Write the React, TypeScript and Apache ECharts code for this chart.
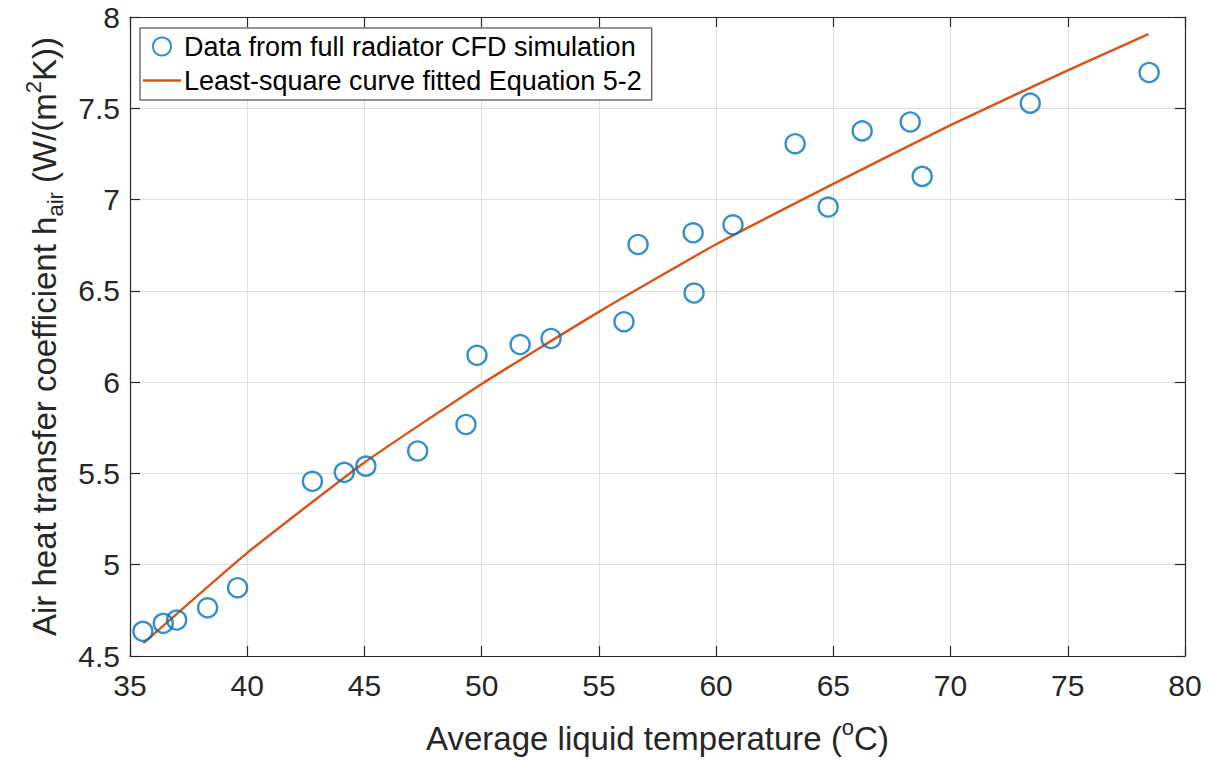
import React, { useEffect, useRef } from "react";
import * as echarts from "echarts";

const tempX = [35.55, 36.42, 36.99, 38.31, 39.59, 42.78, 44.14, 45.06, 47.27, 49.33, 49.8, 51.64, 52.96, 56.07, 56.67, 59.02, 59.06, 60.72, 63.37, 64.78, 66.23, 68.28, 68.79, 73.4, 78.47];
const hAir = [4.635, 4.679, 4.697, 4.764, 4.874, 5.457, 5.506, 5.54, 5.623, 5.768, 6.147, 6.206, 6.239, 6.331, 6.754, 6.818, 6.488, 6.862, 7.306, 6.959, 7.376, 7.425, 7.127, 7.528, 7.696];
const fitX = [35.57, 40, 45, 50, 55, 60, 65, 70, 75, 78.44];
const fitY = [4.57, 5.065, 5.56, 5.99, 6.385, 6.755, 7.086, 7.408, 7.708, 7.906];
const seriesNames = ["Data from full radiator CFD simulation", "Least-square curve fitted Equation 5-2"];

const FONT = "'Liberation Sans', Arial, Helvetica, sans-serif";
const AX = "#262626";

export default function App() {
  const ref = useRef<HTMLDivElement>(null);
  useEffect(() => {
    document.body.style.margin = "0";
    const chart = echarts.init(ref.current!, null, { renderer: "svg" });
    const xBase = {
      type: "value",
      min: 35,
      max: 80,
      interval: 5,
      axisLine: { show: true, onZero: false, lineStyle: { color: AX, width: 1.2 } },
      axisTick: { show: true, inside: true, length: 10, lineStyle: { color: AX, width: 1.2 } },
    };
    const yBase = {
      type: "value",
      min: 4.5,
      max: 8,
      interval: 0.5,
      axisLine: { show: true, onZero: false, lineStyle: { color: AX, width: 1.2 } },
      axisTick: { show: true, inside: true, length: 10, lineStyle: { color: AX, width: 1.2 } },
    };
    chart.setOption({
      animation: false,
      backgroundColor: "#ffffff",
      textStyle: { fontFamily: FONT },
      grid: { left: 130, right: 37, top: 17, bottom: 102, containLabel: false },
      legend: {
        orient: "vertical",
        left: 140,
        top: 28,
        padding: [5, 10, 6, 3],
        itemGap: 7,
        itemWidth: 38,
        itemHeight: 18,
        borderColor: AX,
        borderWidth: 1,
        backgroundColor: "#ffffff",
        textStyle: { fontSize: 27, color: "#000000", fontFamily: FONT, padding: [0, 0, 0, -2] },
        data: [
          { name: seriesNames[0] },
          {
            name: seriesNames[1],
            icon: "path://M0,0 L38,0 L38,2.4 L0,2.4 Z",
            itemStyle: { color: "#D95319", borderWidth: 0 },
          },
        ],
      },
      xAxis: [
        {
          ...xBase,
          position: "bottom",
          name: "Average liquid temperature ({sup|o}C)",
          nameLocation: "middle",
          nameGap: 60,
          nameTextStyle: {
            fontSize: 33,
            color: AX,
            fontFamily: FONT,
            lineHeight: 44,
            rich: { sup: { fontSize: 22, lineHeight: 28, verticalAlign: "top", color: AX, fontFamily: FONT } },
          },
          axisLabel: { fontSize: 30, color: AX, margin: 14, fontFamily: FONT },
          splitLine: { show: true, lineStyle: { color: "#dfdfdf", width: 1 } },
        },
        {
          ...xBase,
          position: "top",
          axisLabel: { show: false },
          splitLine: { show: false },
        },
      ],
      yAxis: [
        {
          ...yBase,
          position: "left",
          name: "Air heat transfer coefficient h{sub|air} (W/(m{sup|2}K))",
          nameLocation: "middle",
          nameGap: 64,
          nameRotate: 90,
          nameTextStyle: {
            fontSize: 33,
            color: AX,
            fontFamily: FONT,
            lineHeight: 44,
            rich: {
              sup: { fontSize: 22, lineHeight: 28, verticalAlign: "top", color: AX, fontFamily: FONT },
              sub: { fontSize: 22, lineHeight: 24, verticalAlign: "bottom", color: AX, fontFamily: FONT },
            },
          },
          axisLabel: { fontSize: 30, color: AX, margin: 10, fontFamily: FONT },
          splitLine: { show: true, lineStyle: { color: "#dfdfdf", width: 1 } },
        },
        {
          ...yBase,
          position: "right",
          axisLabel: { show: false },
          splitLine: { show: false },
        },
      ],
      series: [
        {
          name: seriesNames[0],
          type: "scatter",
          xAxisIndex: 0,
          yAxisIndex: 0,
          symbol: "circle",
          symbolSize: 19,
          itemStyle: { color: "rgba(255,255,255,0)", borderColor: "#0072BD", borderWidth: 2.4 },
          data: tempX.map((x, i) => [x, hAir[i]]),
          z: 3,
        },
        {
          name: seriesNames[1],
          type: "line",
          xAxisIndex: 0,
          yAxisIndex: 0,
          symbol: "none",
          showSymbol: false,
          smooth: 0.15,
          lineStyle: { color: "#D95319", width: 2.4 },
          itemStyle: { color: "#D95319" },
          data: fitX.map((x, i) => [x, fitY[i]]),
          z: 2,
        },
      ],
    });
    return () => chart.dispose();
  }, []);
  return (
    <div style={{ position: "fixed", left: 0, top: 0, width: 1222, height: 765, background: "#fff" }}>
      <div ref={ref} style={{ width: 1222, height: 765 }} />
    </div>
  );
}
